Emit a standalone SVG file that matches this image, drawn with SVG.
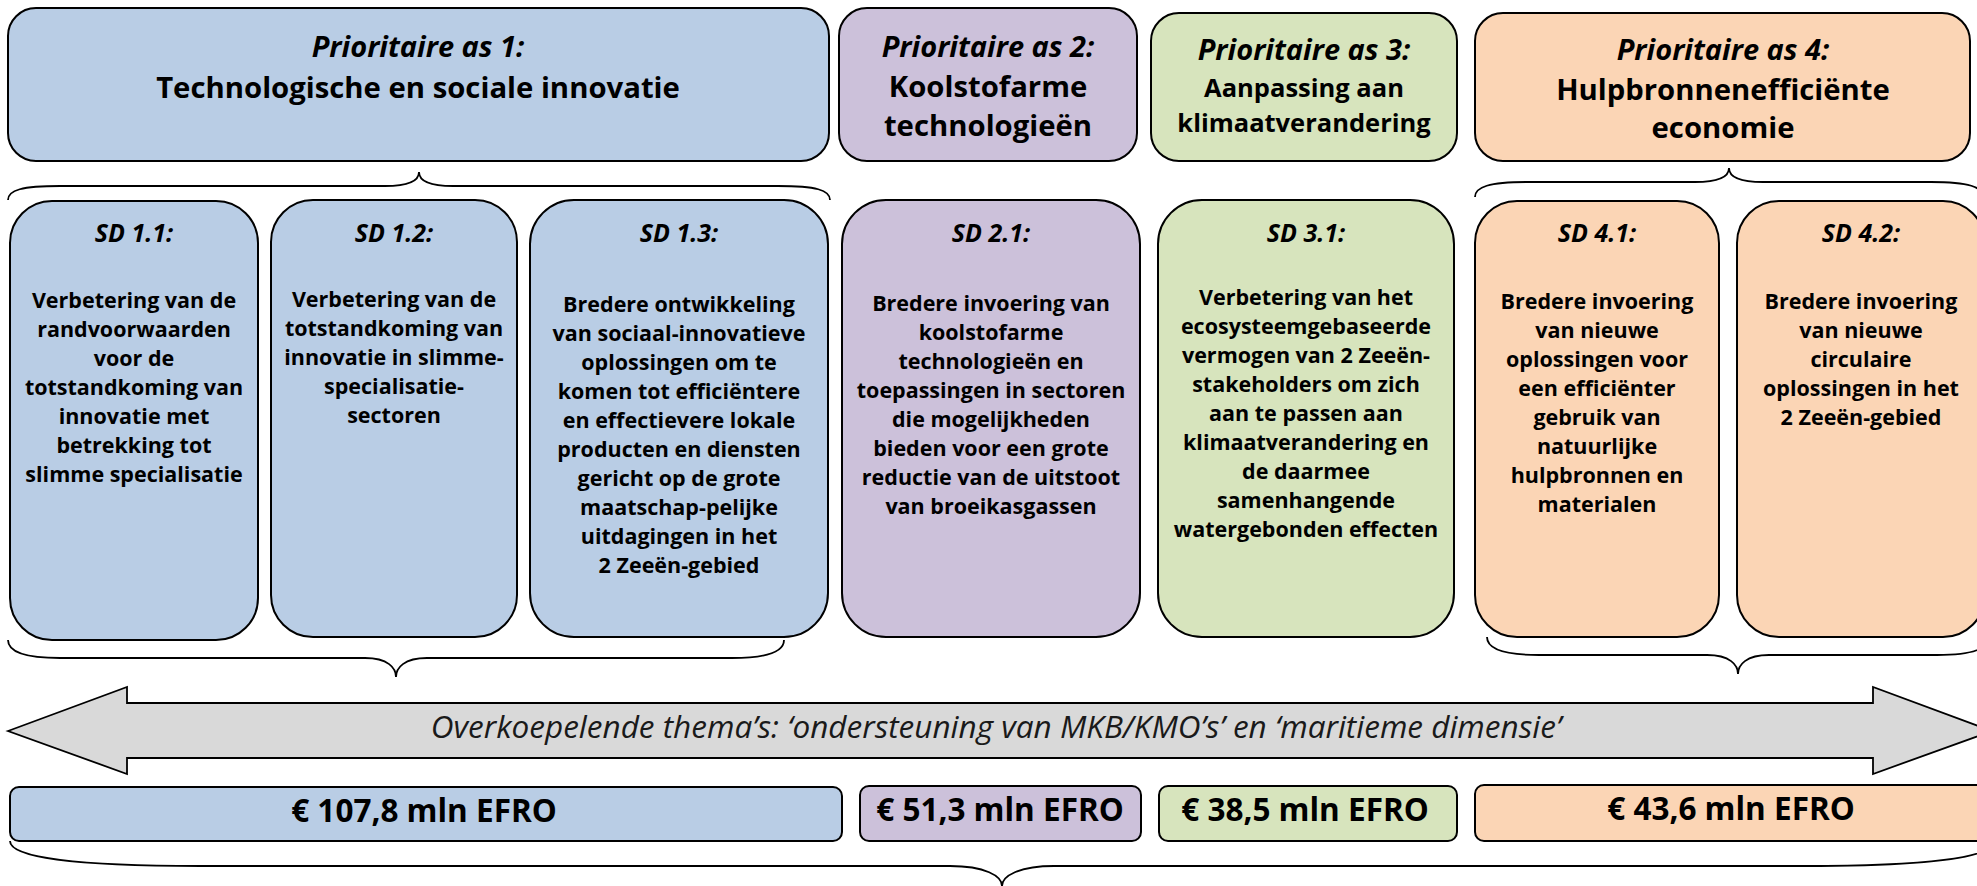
<svg xmlns="http://www.w3.org/2000/svg" width="1977" height="886" viewBox="0 0 1977 886">
<style>
.bx{stroke:#000;stroke-width:2}
.blue{fill:#B9CDE5}
.purple{fill:#CCC1DA}
.green{fill:#D7E4BD}
.orange{fill:#FBD5B5}
.br{fill:none;stroke:#000;stroke-width:1.8}
text{font-family:"Open Sans","DejaVu Sans",sans-serif;fill:#000;text-anchor:middle}
.pt{font-style:italic;font-weight:700;font-size:29px}
.ttl{font-weight:700;font-size:29.3px}
.ttl3{font-weight:700;font-size:25.5px}
.sdh{font-style:italic;font-weight:700;font-size:25px}
.body{font-weight:700;font-size:21.5px}
.efro{font-weight:700;font-size:31.5px}
.theme{font-style:italic;font-weight:400;font-size:31.5px;fill:#1a1a1a}
</style>

<g id="connectors">
  <path class="br" d="M 8,200 C 8,190 22,186 60,186 L 385,186 C 410,186 419,180 419,172 C 419,180 428,186 453,186 L 778,186 C 816,186 830,190 830,200"/>
  <path class="br" d="M 1475,197 C 1475,187 1489,182 1527,182 L 1695,182 C 1720,182 1729,176 1729,168 C 1729,176 1738,182 1763,182 L 1931,182 C 1969,182 1983,187 1983,197"/>
  <path class="br" d="M 8,640 C 8,652 25,658 60,658 L 365,658 C 388,658 396,668 396,677 C 396,668 404,658 427,658 L 732,658 C 767,658 784,652 784,640"/>
  <path class="br" d="M 1487,637 C 1487,649 1504,655 1539,655 L 1707,655 C 1730,655 1738,665 1738,674 C 1738,665 1746,655 1769,655 L 1937,655 C 1972,655 1989,649 1989,637"/>
  <path class="br" d="M 10,841 C 10,858 80,866 200,866 L 950,866 C 985,866 1002,876 1002,886 C 1002,876 1019,866 1054,866 L 1804,866 C 1924,866 1994,858 1994,841"/>
</g>

<g id="pa1">
  <rect class="bx blue" x="8" y="8" width="821" height="153" rx="28"/>
  <text class="pt" x="418" y="57">Prioritaire as 1:</text>
  <text class="ttl" x="418" y="98">Technologische en sociale innovatie</text>
</g>
<g id="pa2">
  <rect class="bx purple" x="839" y="8" width="298" height="153" rx="28"/>
  <text class="pt" x="988" y="57">Prioritaire as 2:</text>
  <text class="ttl" x="988" y="97">Koolstofarme</text>
  <text class="ttl" x="988" y="136">technologieën</text>
</g>
<g id="pa3">
  <rect class="bx green" x="1151" y="13" width="306" height="148" rx="28"/>
  <text class="pt" x="1304" y="60">Prioritaire as 3:</text>
  <text class="ttl3" x="1304" y="97">Aanpassing aan</text>
  <text class="ttl3" x="1304" y="132">klimaatverandering</text>
</g>
<g id="pa4">
  <rect class="bx orange" x="1475" y="13" width="495" height="148" rx="28"/>
  <text class="pt" x="1723" y="60">Prioritaire as 4:</text>
  <text class="ttl" x="1723" y="100">Hulpbronnenefficiënte</text>
  <text class="ttl" x="1723" y="138">economie</text>
</g>

<g id="sd11">
  <rect class="bx blue" x="10" y="201" width="248" height="439" rx="42"/>
  <text class="sdh" x="134" y="242">SD 1.1:</text>
  <text class="body" y="308"><tspan x="134">Verbetering van de</tspan><tspan x="134" dy="29">randvoorwaarden</tspan><tspan x="134" dy="29">voor de</tspan><tspan x="134" dy="29">totstandkoming van</tspan><tspan x="134" dy="29">innovatie met</tspan><tspan x="134" dy="29">betrekking tot</tspan><tspan x="134" dy="29">slimme specialisatie</tspan></text>
</g>
<g id="sd12">
  <rect class="bx blue" x="271" y="200" width="246" height="437" rx="42"/>
  <text class="sdh" x="394" y="242">SD 1.2:</text>
  <text class="body" y="307"><tspan x="394">Verbetering van de</tspan><tspan x="394" dy="29">totstandkoming van</tspan><tspan x="394" dy="29">innovatie in slimme-</tspan><tspan x="394" dy="29">specialisatie-</tspan><tspan x="394" dy="29">sectoren</tspan></text>
</g>
<g id="sd13">
  <rect class="bx blue" x="530" y="200" width="298" height="437" rx="44"/>
  <text class="sdh" x="679" y="242">SD 1.3:</text>
  <text class="body" y="312"><tspan x="679">Bredere ontwikkeling</tspan><tspan x="679" dy="29">van sociaal-innovatieve</tspan><tspan x="679" dy="29">oplossingen om te</tspan><tspan x="679" dy="29">komen tot efficiëntere</tspan><tspan x="679" dy="29">en effectievere lokale</tspan><tspan x="679" dy="29">producten en diensten</tspan><tspan x="679" dy="29">gericht op de grote</tspan><tspan x="679" dy="29">maatschap-pelijke</tspan><tspan x="679" dy="29">uitdagingen in het</tspan><tspan x="679" dy="29">2 Zeeën-gebied</tspan></text>
</g>
<g id="sd21">
  <rect class="bx purple" x="842" y="200" width="298" height="437" rx="44"/>
  <text class="sdh" x="991" y="242">SD 2.1:</text>
  <text class="body" y="311"><tspan x="991">Bredere invoering van</tspan><tspan x="991" dy="29">koolstofarme</tspan><tspan x="991" dy="29">technologieën en</tspan><tspan x="991" dy="29">toepassingen in sectoren</tspan><tspan x="991" dy="29">die mogelijkheden</tspan><tspan x="991" dy="29">bieden voor een grote</tspan><tspan x="991" dy="29">reductie van de uitstoot</tspan><tspan x="991" dy="29">van broeikasgassen</tspan></text>
</g>
<g id="sd31">
  <rect class="bx green" x="1158" y="200" width="296" height="437" rx="44"/>
  <text class="sdh" x="1306" y="242">SD 3.1:</text>
  <text class="body" y="305"><tspan x="1306">Verbetering van het</tspan><tspan x="1306" dy="29">ecosysteemgebaseerde</tspan><tspan x="1306" dy="29">vermogen van 2 Zeeën-</tspan><tspan x="1306" dy="29">stakeholders om zich</tspan><tspan x="1306" dy="29">aan te passen aan</tspan><tspan x="1306" dy="29">klimaatverandering en</tspan><tspan x="1306" dy="29">de daarmee</tspan><tspan x="1306" dy="29">samenhangende</tspan><tspan x="1306" dy="29">watergebonden effecten</tspan></text>
</g>
<g id="sd41">
  <rect class="bx orange" x="1475" y="201" width="244" height="436" rx="42"/>
  <text class="sdh" x="1597" y="242">SD 4.1:</text>
  <text class="body" y="309"><tspan x="1597">Bredere invoering</tspan><tspan x="1597" dy="29">van nieuwe</tspan><tspan x="1597" dy="29">oplossingen voor</tspan><tspan x="1597" dy="29">een efficiënter</tspan><tspan x="1597" dy="29">gebruik van</tspan><tspan x="1597" dy="29">natuurlijke</tspan><tspan x="1597" dy="29">hulpbronnen en</tspan><tspan x="1597" dy="29">materialen</tspan></text>
</g>
<g id="sd42">
  <rect class="bx orange" x="1737" y="201" width="248" height="436" rx="42"/>
  <text class="sdh" x="1861" y="242">SD 4.2:</text>
  <text class="body" y="309"><tspan x="1861">Bredere invoering</tspan><tspan x="1861" dy="29">van nieuwe</tspan><tspan x="1861" dy="29">circulaire</tspan><tspan x="1861" dy="29">oplossingen in het</tspan><tspan x="1861" dy="29">2 Zeeën-gebied</tspan></text>
</g>

<g id="themes">
  <polygon points="8,731 127,687 127,703 1873,703 1873,687 1992,731 1873,774 1873,758 127,758 127,774" fill="#D9D9D9" stroke="#000" stroke-width="1.8"/>
  <text class="theme" x="996" y="738">Overkoepelende thema’s: ‘ondersteuning van MKB/KMO’s’ en ‘maritieme dimensie’</text>
</g>

<g id="efro1">
  <rect class="bx blue" x="10" y="787" width="832" height="54" rx="9"/>
  <text class="efro" x="424" y="822">€ 107,8 mln EFRO</text>
</g>
<g id="efro2">
  <rect class="bx purple" x="860" y="786" width="281" height="55" rx="9"/>
  <text class="efro" x="1000" y="821">€ 51,3 mln EFRO</text>
</g>
<g id="efro3">
  <rect class="bx green" x="1159" y="786" width="298" height="55" rx="9"/>
  <text class="efro" x="1305" y="821">€ 38,5 mln EFRO</text>
</g>
<g id="efro4">
  <rect class="bx orange" x="1475" y="785" width="510" height="56" rx="9"/>
  <text class="efro" x="1731" y="820">€ 43,6 mln EFRO</text>
</g>
</svg>
